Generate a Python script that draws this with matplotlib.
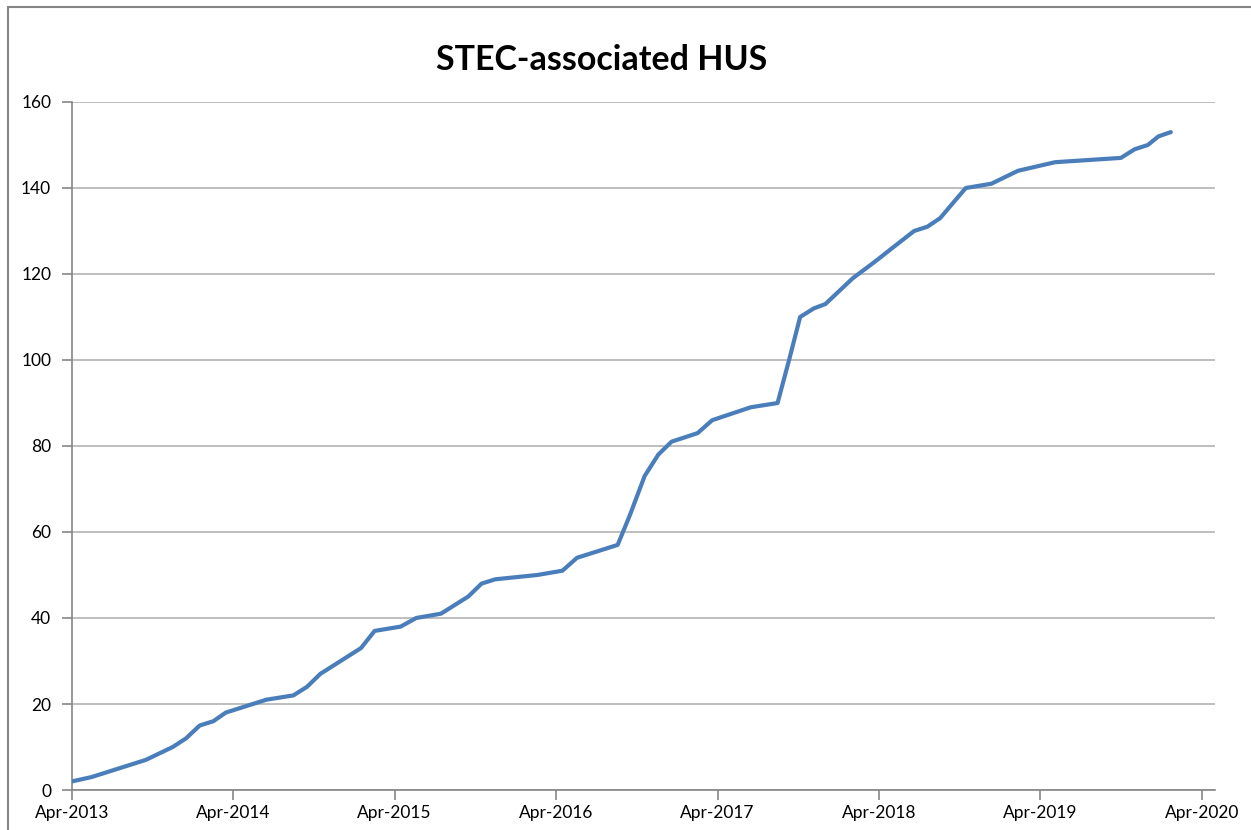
import numpy as np
import pandas as pd
import matplotlib
matplotlib.use("Agg")
import matplotlib.pyplot as plt
import matplotlib.dates as mdates
from matplotlib.patches import Rectangle

# cumulative case counts
dates = ["2013-04-01", "2013-05-15", "2013-09-15", "2013-11-15", "2013-12-15",
         "2014-01-15", "2014-02-15", "2014-03-15", "2014-06-15", "2014-08-15",
         "2014-09-15", "2014-10-15", "2015-01-15", "2015-02-15", "2015-04-15",
         "2015-05-20", "2015-07-15", "2015-09-15", "2015-10-15", "2015-11-15",
         "2016-02-18", "2016-04-15", "2016-05-18", "2016-08-18", "2016-09-15",
         "2016-10-18", "2016-11-18", "2016-12-18", "2017-02-15", "2017-03-20",
         "2017-06-15", "2017-08-15", "2017-09-10", "2017-10-05", "2017-11-05",
         "2017-12-01", "2018-02-01", "2018-03-25", "2018-05-01", "2018-06-20",
         "2018-07-20", "2018-08-18", "2018-09-20", "2018-10-15", "2018-12-12",
         "2019-02-10", "2019-05-05", "2019-10-01", "2019-11-01", "2019-12-01",
         "2019-12-25", "2020-01-22"]
cases = [2, 3, 7, 10, 12,
         15, 16, 18, 21, 22,
         24, 27, 33, 37, 38,
         40, 41, 45, 48, 49,
         50, 51, 54, 57, 64,
         73, 78, 81, 83, 86,
         89, 90, 100, 110, 112,
         113, 119, 123, 126, 130,
         131, 133, 137, 140, 141,
         144, 146, 147, 149, 150,
         152, 153]
title = "STEC-associated HUS"

x = pd.to_datetime(dates)

plt.rcParams['font.family'] = ['Lato', 'DejaVu Sans']

fig = plt.figure(figsize=(12.51, 8.30), dpi=100)
ax = fig.add_axes([72/1251, 40/830, 1143/1251, 688/830])

ax.plot(x, cases, color='#4A7EBB', lw=3.0, solid_joinstyle='round',
        solid_capstyle='round', zorder=3)

ax.set_ylim(0, 160)
ax.set_yticks(np.arange(0, 161, 20))
ax.set_xlim(pd.Timestamp("2013-04-01"), pd.Timestamp("2020-05-01"))
ax.xaxis.set_major_locator(mdates.MonthLocator(bymonth=4))
ax.xaxis.set_major_formatter(mdates.DateFormatter("%b-%Y"))

ax.grid(axis='y', color='#BEBEBE', lw=1.4)
ax.set_axisbelow(True)
for s in ['top', 'right']:
    ax.spines[s].set_visible(False)
for s in ['left', 'bottom']:
    ax.spines[s].set_color('#868686')
    ax.spines[s].set_linewidth(1.2)
ax.tick_params(axis='both', colors='#868686', length=7, width=1.2,
               labelcolor='black', labelsize=12.5)
ax.tick_params(axis='y', pad=8)
ax.tick_params(axis='x', pad=4)

fig.text(0.481, 0.928, title, ha='center', va='center',
         fontsize=24.5, fontweight='bold')

# outer chart border
fig.patches.append(Rectangle((8/1251, -0.05), 1.2, 0.05 + 1 - 7/830,
                             transform=fig.transFigure, fill=False,
                             edgecolor='#868686', lw=1.5))

fig.savefig("out.png", dpi=100)
